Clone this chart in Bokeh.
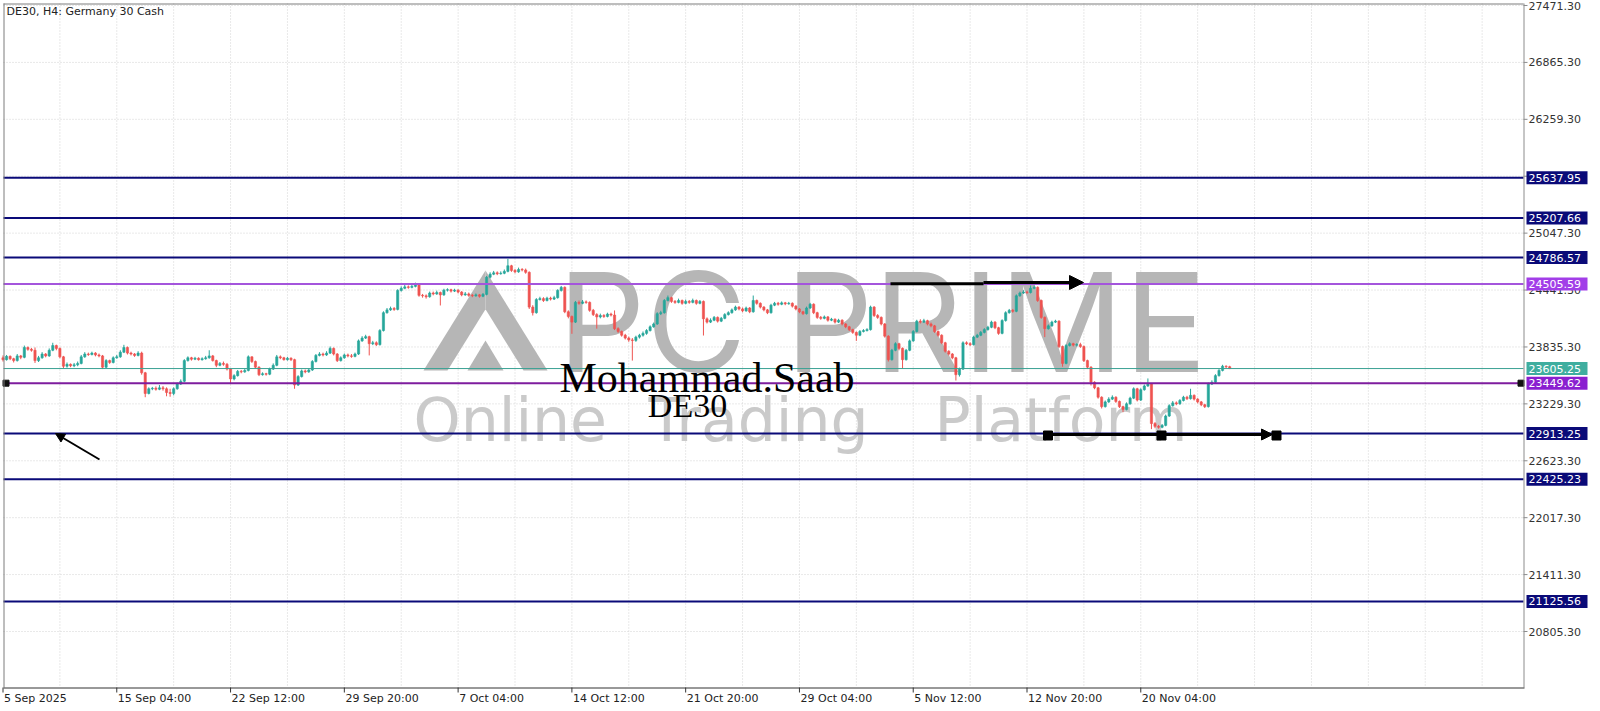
from bokeh.plotting import figure
from bokeh.models import Range1d, Arrow, NormalHead, ColumnDataSource
from bokeh.core.properties import value
from bokeh.embed import file_html
from bokeh.resources import INLINE

# ---- DE30 H4 candles (bar index 0 = 5 Sep 2025 20:00) ----
FIRST_OPEN = 23720
CLOSE = [
    23700, 23735, 23710, 23690, 23740, 23725, 23830, 23810, 23800, 23690,
    23720, 23760, 23740, 23800, 23850, 23820, 23730, 23630, 23650, 23635,
    23645, 23660, 23730, 23760, 23755, 23770, 23750, 23740, 23620, 23690,
    23670, 23720, 23730, 23780, 23830, 23770, 23760, 23745, 23770, 23560,
    23340, 23390, 23395, 23385, 23400, 23390, 23350, 23340, 23390, 23440,
    23470, 23690, 23720, 23705, 23715, 23700, 23710, 23720, 23740, 23690,
    23640, 23660, 23650, 23600, 23495, 23530, 23575, 23570, 23585, 23730,
    23680, 23620, 23540, 23550, 23545, 23600, 23640, 23730, 23720, 23700,
    23715, 23700, 23430, 23520, 23580, 23570, 23590, 23680, 23745, 23760,
    23750, 23770, 23820, 23760, 23690, 23720, 23750, 23740, 23735, 23760,
    23900, 23930, 23945, 23870, 23880, 23860, 24010, 24200, 24230, 24245,
    24235, 24437, 24460, 24475, 24470, 24480, 24500, 24385, 24380, 24370,
    24410, 24400, 24415, 24390, 24440, 24445, 24430, 24440, 24420, 24390,
    24400, 24385, 24380, 24390, 24375, 24395, 24578, 24610, 24625, 24615,
    24620, 24640, 24700, 24650, 24635, 24660, 24655, 24630, 24260, 24200,
    24340, 24350, 24330, 24355, 24345, 24360, 24437, 24470, 24210, 24160,
    24100, 24310, 24300, 24315, 24310, 24225, 24180, 24155, 24170, 24160,
    24185, 24175, 24030, 24000, 23960, 23930, 23910, 23905, 23940, 23960,
    23980, 24010, 24050, 24080, 24190, 24200, 24330, 24360, 24320, 24310,
    24330, 24300, 24320, 24310, 24330, 24300, 24320, 24135, 24100, 24120,
    24150, 24110, 24140, 24180, 24200, 24230, 24260, 24240, 24220, 24250,
    24210, 24330, 24300, 24260, 24230, 24200, 24280, 24300, 24290, 24305,
    24295, 24300, 24270, 24240, 24210, 24190, 24250, 24290, 24200, 24150,
    24140, 24155, 24120, 24130, 24100, 24120, 24080, 24050, 24020, 23990,
    23960, 24000, 24010, 24020, 24260, 24170, 24150, 24080, 23950, 23700,
    23800, 23870, 23820, 23700, 23800, 23900, 24000, 24110, 24100, 24115,
    24080, 24060, 24000, 23960, 23880, 23790, 23760, 23720, 23540, 23600,
    23880, 23870, 23860, 23940, 23960, 23990, 24020, 24045, 24100, 24040,
    23980, 24117, 24200, 24225, 24215, 24380, 24410, 24420, 24415, 24460,
    24470, 24330, 24150, 24030, 24060, 24100, 24110, 23840, 23660, 23850,
    23870, 23855, 23860, 23840, 23690, 23620, 23460, 23400, 23300, 23200,
    23250, 23280, 23300, 23255, 23200, 23170, 23230, 23290, 23390, 23270,
    23380, 23420, 23440, 23020, 22990, 22980, 23000, 23100, 23210, 23240,
    23230, 23265, 23300, 23285, 23320, 23280, 23250, 23220, 23200, 23440,
    23460, 23530, 23585, 23630, 23625, 23605,
]
HIGH = [
    23745, 23750, 23745, 23720, 23760, 23750, 23850, 23840, 23825, 23830,
    23740, 23780, 23770, 23820, 23880, 23860, 23830, 23740, 23670, 23660,
    23665, 23680, 23750, 23780, 23775, 23785, 23780, 23765, 23750, 23705,
    23700, 23735, 23750, 23800, 23858, 23840, 23785, 23770, 23790, 23785,
    23570, 23405, 23410, 23415, 23430, 23420, 23405, 23390, 23405, 23455,
    23490, 23705, 23735, 23730, 23730, 23725, 23725, 23740, 23800, 23750,
    23700, 23675, 23680, 23665, 23610, 23545, 23590, 23590, 23600, 23745,
    23735, 23690, 23630, 23565, 23560, 23615, 23660, 23750, 23745, 23730,
    23730, 23725, 23710, 23535, 23595, 23595, 23605, 23695, 23760, 23780,
    23775, 23790, 23840, 23830, 23770, 23735, 23765, 23765, 23760, 23775,
    23915, 23950, 23965, 23955, 23900, 23895, 24025, 24215, 24250, 24265,
    24260, 24450, 24480, 24495, 24490, 24500, 24520, 24510, 24400, 24395,
    24425, 24425, 24435, 24425, 24455, 24460, 24455, 24455, 24450, 24430,
    24420, 24415, 24400, 24405, 24400, 24410, 24590, 24630, 24645, 24640,
    24640, 24660, 24773, 24710, 24665, 24680, 24675, 24670, 24640, 24280,
    24355, 24370, 24365, 24370, 24370, 24380, 24450, 24485, 24480, 24225,
    24170, 24325, 24330, 24335, 24330, 24320, 24240, 24195, 24190, 24185,
    24200, 24200, 24224, 24045, 24010, 23975, 23945, 23930, 23955, 23975,
    24000, 24025, 24065, 24095, 24205, 24220, 24345, 24383, 24370, 24335,
    24350, 24340, 24340, 24335, 24350, 24340, 24335, 24330, 24150, 24140,
    24165, 24160, 24155, 24195, 24215, 24245, 24275, 24270, 24255, 24265,
    24260, 24383, 24340, 24310, 24270, 24240, 24295, 24315, 24315, 24320,
    24315, 24315, 24310, 24280, 24250, 24220, 24265, 24305, 24300, 24210,
    24165, 24170, 24165, 24145, 24140, 24135, 24130, 24090, 24060, 24030,
    24000, 24015, 24025, 24035, 24275, 24270, 24185, 24160, 24090, 23960,
    23815, 23885, 23880, 23830, 23815, 23915, 24015, 24125, 24130, 24135,
    24125, 24095, 24070, 24010, 23970, 23890, 23800, 23770, 23730, 23615,
    23895, 23895, 23885, 23955, 23975, 24005, 24035, 24060, 24115, 24110,
    24050, 24130, 24215, 24240, 24240, 24395, 24425, 24440, 24435, 24490,
    24490, 24480, 24340, 24160, 24075, 24115, 24125, 24120, 23850, 23865,
    23885, 23880, 23875, 23880, 23850, 23700, 23630, 23470, 23410, 23310,
    23265, 23300, 23320, 23310, 23265, 23210, 23245, 23305, 23405, 23400,
    23395, 23435, 23500, 23450, 23035, 23005, 23015, 23115, 23225, 23260,
    23255, 23280, 23315, 23315, 23390, 23330, 23290, 23260, 23230, 23455,
    23480, 23545, 23600, 23645, 23640, 23635,
]
LOW = [
    23680, 23690, 23695, 23670, 23680, 23705, 23715, 23795, 23785, 23665,
    23675, 23710, 23725, 23730, 23790, 23800, 23715, 23610, 23615, 23620,
    23620, 23630, 23650, 23720, 23740, 23745, 23735, 23725, 23600, 23610,
    23655, 23660, 23710, 23720, 23770, 23755, 23745, 23730, 23735, 23540,
    23300, 23330, 23375, 23370, 23375, 23370, 23310, 23305, 23320, 23380,
    23430, 23460, 23680, 23690, 23695, 23690, 23690, 23700, 23710, 23680,
    23620, 23630, 23635, 23585, 23440, 23480, 23520, 23555, 23560, 23575,
    23665, 23605, 23525, 23530, 23530, 23535, 23590, 23630, 23705, 23690,
    23690, 23685, 23390, 23420, 23510, 23555, 23560, 23580, 23670, 23735,
    23735, 23740, 23760, 23745, 23675, 23680, 23710, 23725, 23720, 23725,
    23750, 23890, 23920, 23745, 23855, 23845, 23850, 24000, 24190, 24220,
    24220, 24225, 24425, 24450, 24455, 24460, 24470, 24370, 24360, 24350,
    24360, 24385, 24390, 24277, 24380, 24425, 24415, 24420, 24405, 24375,
    24380, 24370, 24365, 24370, 24360, 24365, 24385, 24565, 24600, 24600,
    24605, 24610, 24630, 24635, 24620, 24625, 24640, 24615, 24240, 24170,
    24190, 24330, 24315, 24320, 24330, 24335, 24350, 24425, 24195, 24140,
    23975, 24090, 24285, 24290, 24295, 24210, 24165, 24030, 24140, 24145,
    24150, 24160, 24015, 23985, 23945, 23915, 23890, 23690, 23890, 23925,
    23945, 23965, 24000, 24040, 24070, 24175, 24190, 24320, 24305, 24295,
    24300, 24285, 24290, 24295, 24300, 24285, 24290, 23957, 24085, 24090,
    24110, 24095, 24100, 24130, 24170, 24190, 24220, 24225, 24205, 24210,
    24195, 24200, 24285, 24245, 24215, 24185, 24190, 24270, 24275, 24280,
    24280, 24285, 24255, 24225, 24195, 24175, 24180, 24240, 24185, 24135,
    24125, 24130, 24105, 24110, 24085, 24090, 24065, 24035, 24005, 23975,
    23900, 23950, 23990, 24000, 24010, 24155, 24135, 24065, 23935, 23680,
    23690, 23790, 23800, 23605, 23690, 23790, 23890, 23990, 24085, 24090,
    24065, 24045, 23985, 23945, 23865, 23775, 23745, 23705, 23478, 23520,
    23590, 23855, 23845, 23850, 23930, 23950, 23980, 24010, 24035, 24025,
    23965, 23970, 24105, 24190, 24200, 24205, 24370, 24400, 24400, 24405,
    24450, 24315, 24135, 23940, 24020, 24050, 24090, 23825, 23625, 23650,
    23840, 23840, 23840, 23825, 23675, 23600, 23425, 23385, 23285, 23180,
    23190, 23240, 23270, 23240, 23185, 23141, 23160, 23220, 23280, 23255,
    23260, 23370, 23410, 22960, 22970, 22965, 22970, 22990, 23090, 23200,
    23215, 23220, 23255, 23270, 23275, 23265, 23235, 23205, 23185, 23190,
    23430, 23450, 23520, 23575, 23610, 23600,
]

TIME_TICK_BARS = [0, 32, 64, 96, 128, 160, 192, 224, 256, 288, 320]
TIME_LABELS = ["5 Sep 2025", "15 Sep 04:00", "22 Sep 12:00", "29 Sep 20:00",
               "7 Oct 04:00", "14 Oct 12:00", "21 Oct 20:00", "29 Oct 04:00",
               "5 Nov 12:00", "12 Nov 20:00", "20 Nov 04:00"]
GRID_BARS = [16, 32, 48, 64, 80, 96, 112, 128, 144, 160, 176, 192, 208,
             224, 240, 256, 272, 288, 304, 320, 336, 352, 368, 384, 400, 416]
PRICE_TICKS = [20805.30, 21411.30, 22017.30, 22623.30, 23229.30, 23835.30,
               24441.30, 25047.30, 25653.30, 26259.30, 26865.30, 27471.30]

NAVY_LEVELS = [25637.95, 25207.66, 24786.57, 22913.25, 22425.23, 21125.56]
UPPER_PURPLE_LEVEL = 24505.59
LOWER_PURPLE_LEVEL = 23449.62
BID_PRICE = 23605.25

# ---- chart window: price pane spans page pixels x 3..1523, y 3..687 ----
X_START, X_END = 0.14, 427.64
Y_MIN, Y_MAX = 20209.0, 27492.6
PANE_L, PANE_T, PANE_R, PANE_B = 3, 3, 1523, 687
W, H = 1600, 711
XS = (X_END - X_START) / (PANE_R - PANE_L)   # bars per pixel
YS = (Y_MAX - Y_MIN) / (PANE_B - PANE_T)     # points per pixel


def bx(px):
    """page x pixel -> bar index"""
    return X_START + (px - PANE_L) * XS


def py(px):
    """page y pixel -> price"""
    return Y_MAX - (px - PANE_T) * YS


UP, DOWN = "#26a69a", "#ef5350"
NAVY = "#0a0a78"
FONT = value("DejaVu Sans")

# The whole page is one frame; the scales and labels are drawn with glyphs.
p = figure(width=W, height=H, output_backend="svg", toolbar_location=None,
           x_range=Range1d(bx(0), bx(W)), y_range=Range1d(py(H), py(0)),
           x_axis_location=None, y_axis_location=None, min_border=0)
p.background_fill_color = "white"
p.border_fill_color = "white"
p.outline_line_color = None
p.grid.visible = False

L, R, T, B = bx(PANE_L), bx(PANE_R), py(PANE_T), py(PANE_B)

# dotted grid
p.segment(x0=GRID_BARS, y0=[T] * len(GRID_BARS), x1=GRID_BARS, y1=[B] * len(GRID_BARS),
          line_color="#d2d2d2", line_dash="1 2", line_width=1)
p.segment(x0=[L] * len(PRICE_TICKS), y0=PRICE_TICKS, x1=[R] * len(PRICE_TICKS),
          y1=PRICE_TICKS, line_color="#d2d2d2", line_dash="1 2", line_width=1)

# ---- watermark logo (background) ----
wm = "#b6b6b6"
logo_x = [[bx(423), bx(447), bx(485), bx(485)],
          [bx(485), bx(485), bx(523), bx(547)],
          [bx(467), bx(485), bx(503)]]
logo_y = [[py(370), py(370), py(308.7), py(270)],
          [py(270), py(308.7), py(370), py(370)],
          [py(370), py(340), py(370)]]
p.patches(logo_x, logo_y, fill_color=wm, line_color=None)
p.text(x=[bx(557)], y=[py(321)], text=["PC PRIME"], text_font=value("Inter"),
       text_font_size=value("138px"), text_color=wm, text_baseline="middle",
       text_align="left")
p.text(x=[bx(413), bx(648), bx(934)], y=[py(419)] * 3,
       text=["Online", "Trading", "Platform"], text_font=FONT,
       text_font_size=value("60px"), text_color="#cacaca", text_baseline="middle",
       text_align="left")

# ---- candles ----
opens = [FIRST_OPEN] + CLOSE[:-1]
src = ColumnDataSource(dict(
    x=list(range(len(CLOSE))),
    high=HIGH, low=LOW,
    top=[max(o, c) for o, c in zip(opens, CLOSE)],
    bottom=[min(o, c) for o, c in zip(opens, CLOSE)],
    color=[UP if c >= o else DOWN for o, c in zip(opens, CLOSE)],
))
p.segment(x0="x", y0="high", x1="x", y1="low", line_color="color", line_width=1, source=src)
p.vbar(x="x", width=0.62, top="top", bottom="bottom", fill_color="color",
       line_color="color", line_width=0.6, source=src)

# ---- horizontal levels ----
p.segment(x0=[L] * len(NAVY_LEVELS), y0=NAVY_LEVELS, x1=[R] * len(NAVY_LEVELS),
          y1=NAVY_LEVELS, line_color=NAVY, line_width=2)
p.segment(x0=[L], y0=[UPPER_PURPLE_LEVEL], x1=[R], y1=[UPPER_PURPLE_LEVEL],
          line_color="#a455dc", line_width=2)
p.segment(x0=[L], y0=[LOWER_PURPLE_LEVEL], x1=[R], y1=[LOWER_PURPLE_LEVEL],
          line_color="#7e1d9e", line_width=2)
p.segment(x0=[L], y0=[BID_PRICE], x1=[R], y1=[BID_PRICE], line_color="#3aa193", line_width=1)
p.scatter(x=[bx(5.5), bx(1520.5)], y=[LOWER_PURPLE_LEVEL] * 2, marker="square",
          size=6, color="#111111")

# ---- hand-drawn arrows ----
p.add_layout(Arrow(end=NormalHead(size=9, fill_color="black", line_color="black"),
                   x_start=bx(99), y_start=py(459), x_end=bx(55), y_end=py(433),
                   line_width=2, line_color="black"))
p.add_layout(Arrow(end=None, x_start=bx(890), y_start=py(283.3), x_end=bx(983),
                   y_end=py(283.3), line_width=3, line_color="black"))
p.add_layout(Arrow(end=NormalHead(size=14, fill_color="black", line_color="black"),
                   x_start=bx(983), y_start=py(282), x_end=bx(1083), y_end=py(282),
                   line_width=3, line_color="black"))
p.add_layout(Arrow(end=NormalHead(size=11, fill_color="black", line_color="black"),
                   x_start=bx(1048), y_start=py(434), x_end=bx(1272), y_end=py(434),
                   line_width=3, line_color="black"))
p.scatter(x=[bx(1047.5), bx(1161), bx(1276)], y=[py(435)] * 3, marker="square",
          size=9, color="black")

# ---- author texts ----
p.text(x=[bx(559)], y=[py(377)], text=["Mohammad.Saab"], text_font=value("Liberation Serif"),
       text_font_size=value("42px"), text_color="black", text_baseline="middle")
p.text(x=[bx(687)], y=[py(405)], text=["DE30"], text_font=value("Liberation Serif"),
       text_font_size=value("34px"), text_color="black", text_align="center",
       text_baseline="middle")

# ---- pane border and scales ----
p.segment(x0=[L, bx(PANE_L + 0.5)], y0=[py(PANE_T + 0.5), T], x1=[R, bx(PANE_L + 0.5)],
          y1=[py(PANE_T + 0.5), B], line_color="#7d7d7d", line_width=1)
p.segment(x0=[bx(PANE_R + 0.5)], y0=[T], x1=[bx(PANE_R + 0.5)], y1=[B],
          line_color="#8c8c8c", line_width=1)
p.segment(x0=[L], y0=[py(PANE_B + 0.5)], x1=[bx(PANE_R + 1)], y1=[py(PANE_B + 0.5)],
          line_color="#333333", line_width=1)

# price scale
p.segment(x0=[bx(PANE_R)] * len(PRICE_TICKS), y0=PRICE_TICKS,
          x1=[bx(PANE_R + 4)] * len(PRICE_TICKS), y1=PRICE_TICKS,
          line_color="#8c8c8c", line_width=1)
p.text(x=[bx(PANE_R + 5)] * len(PRICE_TICKS), y=PRICE_TICKS,
       text=[f"{t:.2f}" for t in PRICE_TICKS], text_font=FONT,
       text_font_size=value("11px"), text_color="#333333", text_baseline="middle",
       text_align="left")

# time scale
p.segment(x0=TIME_TICK_BARS, y0=[B] * len(TIME_TICK_BARS), x1=TIME_TICK_BARS,
          y1=[py(PANE_B + 5)] * len(TIME_TICK_BARS), line_color="#333333", line_width=1)
p.text(x=[b + 0.3 for b in TIME_TICK_BARS], y=[py(698)] * len(TIME_TICK_BARS),
       text=TIME_LABELS, text_font=FONT, text_font_size=value("11px"),
       text_color="#222222", text_baseline="middle", text_align="left")

# title
p.text(x=[bx(6)], y=[py(11)], text=["DE30, H4:  Germany 30 Cash"], text_font=FONT,
       text_font_size=value("11px"), text_color="#222222", text_baseline="middle",
       text_align="left")

# ---- price tags on the right scale ----
tag_levels = NAVY_LEVELS + [UPPER_PURPLE_LEVEL, LOWER_PURPLE_LEVEL, BID_PRICE]
tag_colors = [NAVY] * len(NAVY_LEVELS) + ["#a23ee8", "#8a1fd0", "#3fae9f"]
half = 6.5 * YS
p.quad(left=[bx(PANE_R + 3)] * len(tag_levels), right=[bx(PANE_R + 64)] * len(tag_levels),
       top=[v + half for v in tag_levels], bottom=[v - half for v in tag_levels],
       fill_color=tag_colors, line_color=None)
p.text(x=[bx(PANE_R + 5)] * len(tag_levels), y=tag_levels,
       text=[f"{v:.2f}" for v in tag_levels], text_font=FONT,
       text_font_size=value("11px"), text_color="white", text_baseline="middle",
       text_align="left")

open("out.html", "w").write(file_html(p, INLINE))
